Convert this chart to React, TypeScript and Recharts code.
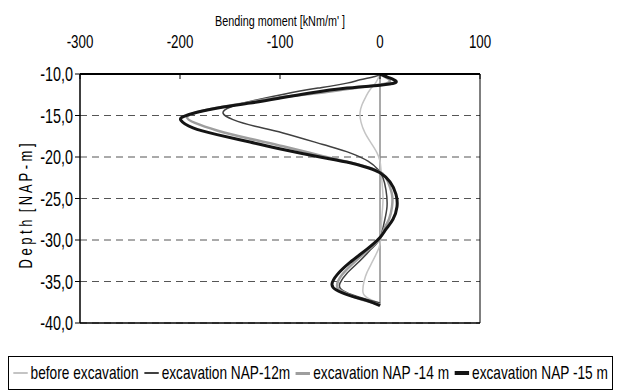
import React from 'react';
import { LineChart, Line, XAxis, YAxis, CartesianGrid, ReferenceLine } from 'recharts';

// [depth (m NAP), bending moment (kNm/m')]
const wallAxis: [number, number][] = [[-10, 0], [-37.9, 0]];

const beforeExcavation: [number, number][] = [
    [-10, 0], [-11, -4], [-11.9, -10], [-12.7, -14], [-13.7, -18], [-14.7, -20], [-15.8, -19],
    [-17.1, -15], [-18.3, -9], [-19.5, -3], [-20.5, 0], [-21.5, 1], [-23, 2], [-25, 3], [-27, 2],
    [-29, 1], [-30.5, 0], [-31.5, -3], [-32.7, -8], [-33.9, -13], [-35, -16], [-36.3, -17],
    [-37, -12], [-37.5, -3], [-37.7, 0]
];

const excavation12: [number, number][] = [
    [-10, 0], [-10.3, -5], [-10.7, -20], [-11.1, -33], [-11.7, -62], [-12.4, -95], [-13.3, -130],
    [-14, -150], [-14.7, -157], [-15.5, -147], [-16.3, -125], [-17.1, -97], [-18.5, -57],
    [-19.5, -30], [-20.5, -12], [-21.5, -2], [-22.5, 3], [-24, 6], [-26, 7], [-28, 4], [-29.8, 0],
    [-31, -8], [-32.5, -20], [-34, -33], [-35.2, -40], [-35.9, -39], [-36.6, -28], [-37.2, -12],
    [-37.6, 0]
];

const excavation14: [number, number][] = [
    [-10, 0], [-10.4, 6], [-10.8, 10], [-11.2, 4], [-11.6, -20], [-12.2, -55], [-12.8, -100],
    [-13.4, -130], [-14, -160], [-14.6, -183], [-15.2, -193], [-15.9, -185], [-16.8, -163],
    [-17.8, -130], [-18.7, -97], [-19.8, -60], [-20.8, -25], [-21.8, 0], [-23, 8], [-24.5, 12],
    [-26, 12], [-27.5, 9], [-28.7, 4], [-29.8, 0], [-31, -10], [-32.6, -25], [-34.2, -38],
    [-35.5, -43], [-36.2, -38], [-36.9, -25], [-37.4, -12], [-37.8, 0]
];

const excavation15: [number, number][] = [
    [-10, 0], [-10.4, 8], [-10.7, 14], [-11, 16], [-11.2, 10], [-11.35, 0], [-11.7, -33],
    [-12.3, -70], [-12.9, -100], [-13.5, -130], [-14, -158], [-14.6, -183], [-15.1, -196],
    [-15.6, -199], [-16.5, -187], [-17.3, -163], [-18.2, -130], [-19.1, -97], [-20, -60],
    [-20.7, -30], [-21.3, -12], [-21.9, 0], [-23, 10], [-24.5, 16], [-26, 17], [-27.5, 13],
    [-28.7, 6], [-29.7, 0], [-31.1, -13], [-32.7, -30], [-34.2, -43], [-35.3, -48], [-36, -44],
    [-36.7, -30], [-37.3, -13], [-37.9, 0]
];

const momentTicks = [-300, -200, -100, 0, 100];
const depthTicks = [-40, -35, -30, -25, -20, -15, -10];

const seriesNames = ['before excavation', 'excavation NAP-12m', 'excavation NAP -14 m', 'excavation NAP -15 m'];

// the original uses a very condensed sans; squeeze Liberation Sans horizontally
const FONT = "'Liberation Sans', Arial, sans-serif";
const SQUEEZE = 0.72;

const toRows = (pts: [number, number][]) => pts.map(([d, m]) => ({ d, m }));

const series = [
    { name: seriesNames[0], data: toRows(beforeExcavation), color: '#c4c4c4', width: 1.5, legendWidth: 2 },
    { name: seriesNames[1], data: toRows(excavation12), color: '#404040', width: 1.5, legendWidth: 2 },
    { name: seriesNames[2], data: toRows(excavation14), color: '#9e9e9e', width: 2.5, legendWidth: 3 },
    { name: seriesNames[3], data: toRows(excavation15), color: '#141414', width: 3, legendWidth: 3.5 }
];

const MomentTick = (props: any) => {
    const { x, y, payload } = props;
    return (
        <g transform={`translate(${x},${y})`}>
            <text transform={`scale(${SQUEEZE},1)`} textAnchor="middle" fontSize={18.5} fontFamily={FONT} fill="#000">
                {payload.value}
            </text>
        </g>
    );
};

const DepthTick = (props: any) => {
    const { x, y, payload } = props;
    return (
        <g transform={`translate(${x},${y})`}>
            <text transform={`scale(${SQUEEZE},1)`} textAnchor="end" dy="0.36em" fontSize={20} fontFamily={FONT} fill="#000">
                {Number(payload.value).toFixed(1).replace('.', ',')}
            </text>
        </g>
    );
};

const App: React.FC = () => {
    return (
        <div style={{ position: 'fixed', left: 0, top: 0, width: 617, height: 390, background: '#fff', fontFamily: FONT, overflow: 'hidden' }}>
            {/* axis title on top */}
            <div style={{
                position: 'absolute',
                left: 80,
                width: 400,
                top: 12,
                textAlign: 'center',
                fontSize: 15,
                lineHeight: '18px',
                color: '#000',
                transform: `scaleX(${SQUEEZE})`
            }}>
                Bending moment [kNm/m' ]
            </div>

            {/* depth axis title */}
            <div style={{
                position: 'absolute',
                left: 26,
                top: 206,
                transform: `translate(-50%, -50%) rotate(-90deg) scaleX(${SQUEEZE})`,
                whiteSpace: 'pre',
                fontSize: 18,
                lineHeight: '20px',
                color: '#000'
            }}>
                D e p t h  [ N A P - m ]
            </div>

            <div style={{ position: 'absolute', left: 0, top: 0 }}>
                <LineChart
                    width={617}
                    height={340}
                    layout="vertical"
                    margin={{ top: 44, right: 137, bottom: 17, left: 8 }}
                >
                    <CartesianGrid vertical={false} stroke="#555" strokeDasharray="7 5" />
                    <XAxis
                        type="number"
                        orientation="top"
                        dataKey="m"
                        domain={[-300, 100]}
                        ticks={momentTicks}
                        height={30}
                        axisLine={{ stroke: '#000', strokeWidth: 2 }}
                        tickLine={{ stroke: '#000' }}
                        tickSize={-5}
                        tickMargin={31}
                        tick={<MomentTick />}
                        allowDataOverflow
                    />
                    <YAxis
                        type="number"
                        dataKey="d"
                        domain={[-40, -10]}
                        ticks={depthTicks}
                        width={72}
                        reversed
                        axisLine={{ stroke: '#000', strokeWidth: 1.5 }}
                        tickLine={{ stroke: '#000' }}
                        tickSize={5}
                        tickMargin={2}
                        tick={<DepthTick />}
                        allowDataOverflow
                    />
                    <ReferenceLine x={100} stroke="#000" strokeWidth={1} />
                    <ReferenceLine y={-40} stroke="#000" strokeWidth={1.5} />
                    <Line
                        data={toRows(wallAxis)}
                        dataKey="m"
                        type="linear"
                        stroke="#8c8c8c"
                        strokeWidth={1.5}
                        dot={false}
                        activeDot={false}
                        isAnimationActive={false}
                    />
                    {series.map((s) => (
                        <Line
                            key={s.name}
                            name={s.name}
                            data={s.data}
                            dataKey="m"
                            type="natural"
                            stroke={s.color}
                            strokeWidth={s.width}
                            dot={false}
                            activeDot={false}
                            isAnimationActive={false}
                        />
                    ))}
                </LineChart>
            </div>

            {/* legend */}
            <div style={{
                position: 'absolute',
                left: 8,
                top: 356,
                width: 605,
                height: 34,
                boxSizing: 'border-box',
                border: '1px solid #000',
                display: 'flex',
                alignItems: 'center',
                color: '#000',
                whiteSpace: 'nowrap',
                overflow: 'hidden'
            }}>
                <div style={{
                    display: 'flex',
                    alignItems: 'center',
                    fontSize: 19,
                    lineHeight: '22px',
                    paddingLeft: 6,
                    transform: `scaleX(${SQUEEZE})`,
                    transformOrigin: 'left center'
                }}>
                    {series.map((s) => (
                        <div key={s.name} style={{ display: 'flex', alignItems: 'center', marginRight: 8 }}>
                            <div style={{ width: 20, height: s.legendWidth, backgroundColor: s.color, marginRight: 4 }} />
                            <span>{s.name}</span>
                        </div>
                    ))}
                </div>
            </div>
        </div>
    );
};

export default App;
